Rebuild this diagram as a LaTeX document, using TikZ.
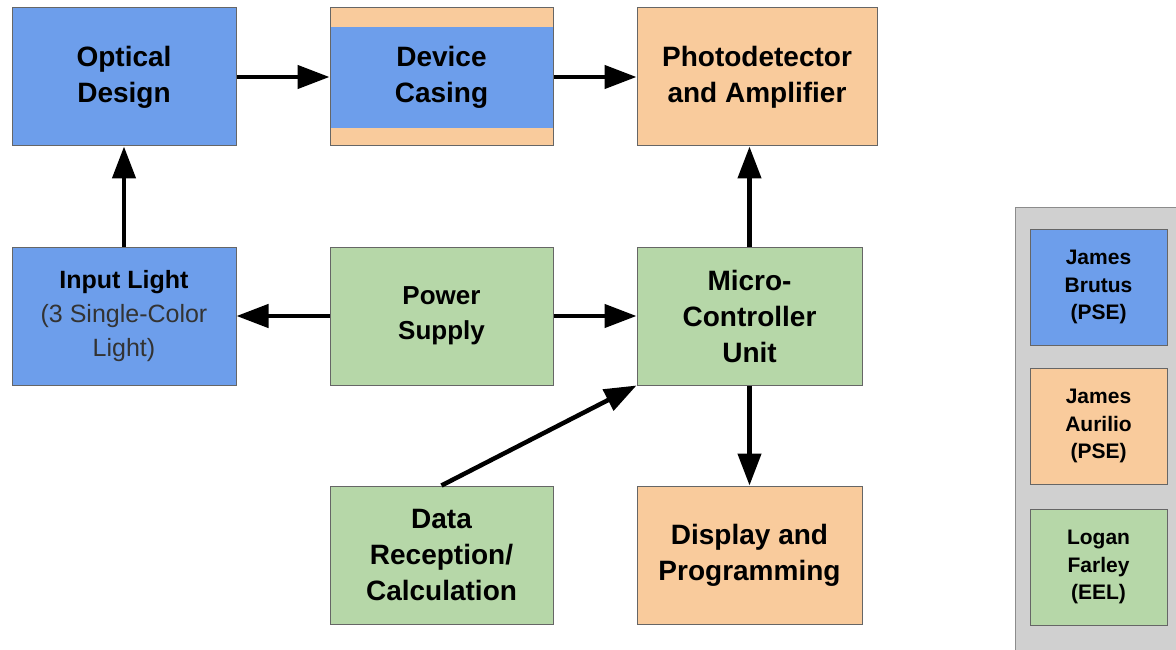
\documentclass[tikz,border=0pt]{standalone}
\usepackage{fontspec}
\setmainfont{Liberation Sans}
\usetikzlibrary{arrows.meta,positioning}
\definecolor{optblue}{HTML}{6D9EEB}
\definecolor{peach}{HTML}{F9CB9C}
\definecolor{sage}{HTML}{B6D7A8}
\definecolor{panelgray}{HTML}{D0D0D0}
\newcommand{\plain}[1]{{\mdseries\color{black!80}#1}}

\begin{document}
\begin{tikzpicture}[x=1pt,y=-1pt,node distance=100pt and 93pt,
  blk/.style={draw=black!60,line width=1pt,align=center,inner sep=0pt,minimum width=224pt,minimum height=138pt,
    font=\fontsize{28}{36}\selectfont\bfseries},
  optic/.style={blk,fill=optblue},hand/.style={blk,fill=peach},elec/.style={blk,fill=sage},
  casing/.style={blk,fill=peach,path picture={\fill[optblue] ([yshift=-19pt]path picture bounding box.north west)
    rectangle ([yshift=18pt]path picture bounding box.south east);}},
  who/.style={draw=black!60,line width=1pt,align=center,inner sep=0pt,minimum width=137pt,minimum height=116pt,
    font=\fontsize{21}{27.5}\selectfont\bfseries},
  arr/.style={line width=4.5pt,-{Triangle[length=32pt,width=23pt]}}]
\useasboundingbox (0,0) rectangle (1176,650);
% top row: optics and detector chain
\node[optic] (optics) at (124,77) {Optical\\Design};
\node[casing,minimum width=223pt,right=of optics] (housing) {Device\\Casing};
\node[hand,minimum width=240pt,right=83pt of housing] (detector) {Photodetector\\and Amplifier};
% middle and bottom rows
\node[optic,below=of optics,font=\fontsize{25}{34}\selectfont\bfseries] (source)
  {Input Light\\\plain{(3 Single-Color}\\\plain{Light)}};
\node[elec,minimum width=223pt,below=of housing,font=\fontsize{26}{35}\selectfont\bfseries] (power) {Power\\Supply};
\node[elec,minimum width=225pt,right=83pt of power] (mcu) {Micro-\\Controller\\Unit};
\node[elec,minimum width=223pt,below=of power] (data) {Data\\Reception/\\Calculation};
\node[hand,minimum width=225pt,below=of mcu] (display) {Display and\\Programming};
\draw[arr] (optics)--(housing); \draw[arr] (housing)--(detector);
\draw[arr] (source)--(optics); \draw[arr] (power)--(source); \draw[arr] (power)--(mcu);
\draw[arr] (mcu.north)--(mcu.north|-detector.south); \draw[arr] (mcu)--(display);
\draw[arr] (data.north)--(mcu.south west);
% legend
\fill[panelgray,draw=black!45,line width=1pt] (1015,207) rectangle (1200,670);
\node[who,fill=optblue] (brutus) at (1098.5,287) {James\\Brutus\\(PSE)};
\node[who,fill=peach,below=22pt of brutus] (aurilio) {James\\Aurilio\\(PSE)};
\node[who,fill=sage,below=24pt of aurilio] (farley) {Logan\\Farley\\(EEL)};
\end{tikzpicture}
\end{document}
